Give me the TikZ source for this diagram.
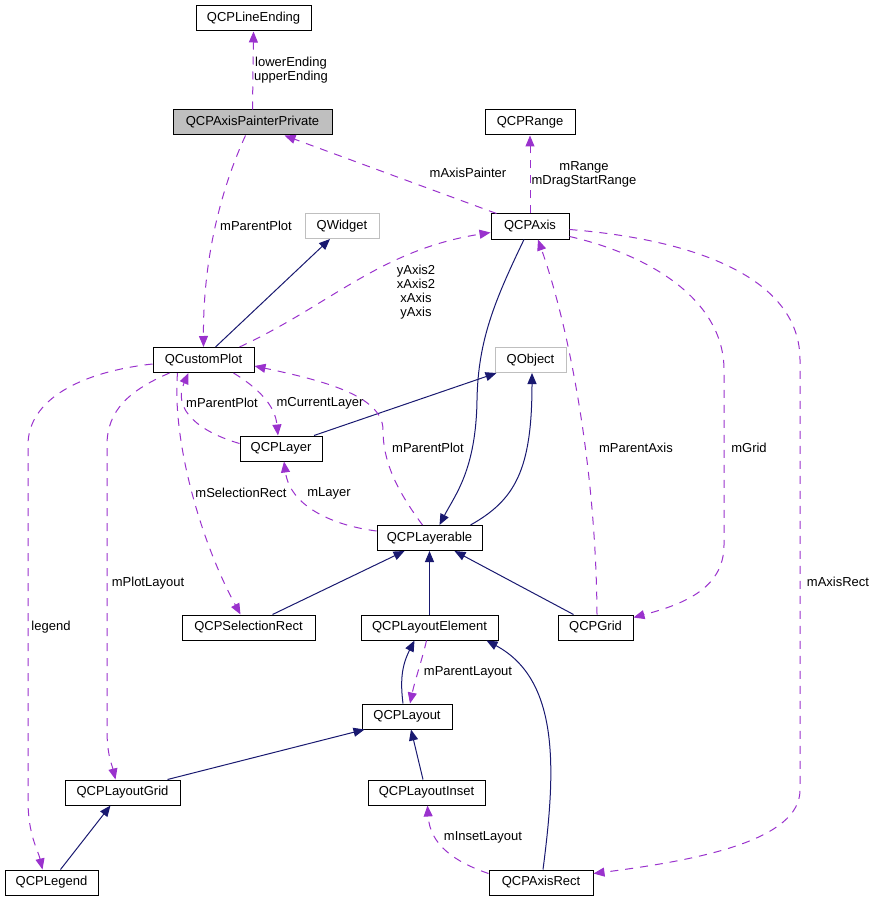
\documentclass[tikz,border=0pt]{standalone}
\usepackage{fontspec}
\setmainfont{Liberation Sans}
\usetikzlibrary{arrows.meta}
\definecolor{dep}{HTML}{9A32CD}
\definecolor{inh}{HTML}{191970}
\definecolor{grayb}{HTML}{BFBFBF}
\tikzset{
  box/.style={draw=black, line width=1pt, fill=white, minimum height=25pt, inner sep=0pt, font=\fontsize{13}{14}\selectfont},
  extbox/.style={box, draw=grayb},
  curbox/.style={box, fill=grayb},
  depedge/.style={draw=dep, line width=1pt, dash pattern=on 8pt off 7pt, -{Triangle[length=11pt,width=9pt]}},
  inhedge/.style={draw=inh, line width=1pt, -{Triangle[length=11pt,width=9pt]}},
  lbl/.style={font=\fontsize{13}{14}\selectfont, align=center, inner sep=0pt},
}
\begin{document}
\begin{tikzpicture}[x=1pt,y=-1pt]
\useasboundingbox (0,0) rectangle (879,901);
% nodes
\node[box, minimum width=115pt] (le) at (253.5,18.5) {QCPLineEnding};
\node[curbox, minimum width=159pt] (pp) at (252.5,122.5) {QCPAxisPainterPrivate};
\node[box, minimum width=90pt] (rg) at (530,122.5) {QCPRange};
\node[box, minimum width=78pt] (ax) at (530,226.5) {QCPAxis};
\node[extbox, minimum width=74pt] (qw) at (342,226) {QWidget};
\node[box, minimum width=101pt] (cp) at (203.5,360) {QCustomPlot};
\node[extbox, minimum width=71pt] (qo) at (530.5,360) {QObject};
\node[box, minimum width=82pt] (ly) at (281,448.5) {QCPLayer};
\node[box, minimum width=105pt] (lb) at (429.5,538) {QCPLayerable};
\node[box, minimum width=133pt] (sr) at (248.5,627.5) {QCPSelectionRect};
\node[box, minimum width=137pt] (lel) at (429.5,627.5) {QCPLayoutElement};
\node[box, minimum width=75pt] (gr) at (595.5,627.5) {QCPGrid};
\node[box, minimum width=90pt] (lay) at (407,716.5) {QCPLayout};
\node[box, minimum width=115pt] (lgr) at (122.5,792.5) {QCPLayoutGrid};
\node[box, minimum width=117pt] (li) at (426.5,792.5) {QCPLayoutInset};
\node[box, minimum width=93pt] (lg) at (51.5,882.5) {QCPLegend};
\node[box, minimum width=104pt] (ar) at (541,882.5) {QCPAxisRect};

% edges
\draw[depedge] (pp.north) -- (le.south);
\node[lbl] (l1) at (291,70) {lowerEnding\\upperEnding};

\draw[depedge] ([xshift=6pt]ax.north west) -- ([xshift=32pt]pp.south);
\node[lbl] (l2) at (468,173) {mAxisPainter};

\draw[depedge] (ax.north) -- (rg.south);
\node[lbl] (l3) at (584,174) {mRange\\mDragStartRange};

\draw[depedge] ([xshift=-7pt]pp.south) .. controls (225,180) and (203,250) .. (cp.north);
\node[lbl] (l4) at (256,226) {mParentPlot};

\draw[inhedge] ([xshift=12pt]cp.north) -- ([xshift=-12pt]qw.south);

\draw[depedge] ([xshift=36pt]cp.north) .. controls (330,305) and (380,250) .. ([yshift=-6pt]ax.west);
\node[lbl] (l6) at (416,292) {yAxis2\\xAxis2\\xAxis\\yAxis};

\draw[depedge] ([xshift=30pt]cp.south) .. controls (258,388) and (275,405) .. ([xshift=-3pt]ly.north);
\node[lbl] (l7) at (320,403) {mCurrentLayer};

\draw[depedge] ([yshift=5pt]ly.west) .. controls (200,432) and (172,410) .. ([xshift=-15pt]cp.south);
\node[lbl] (l8) at (222,403) {mParentPlot};

\draw[inhedge] ([xshift=33pt]ly.north) -- ([xshift=2pt]qo.south west);

\draw[depedge] ([xshift=-7pt]lb.north) .. controls (395,488) and (383,460) .. (383,430)
   .. controls (383,395) and (320,380) .. ([yshift=-6pt]cp.east);
\node[lbl] (l10) at (428,448) {mParentPlot};

\draw[depedge] ([yshift=7pt]lb.west) .. controls (330,525) and (290,505) .. ([xshift=3pt]ly.south);
\node[lbl] (l11) at (329,493) {mLayer};

\draw[inhedge] ([xshift=-12pt]lb.north east) .. controls (515,500) and (532,470) .. ([xshift=1.5pt]qo.south);

\draw[inhedge] ([xshift=-6pt]ax.south) .. controls (495,300) and (478,340) .. (477,400)
   .. controls (476,470) and (455,495) .. ([xshift=10pt]lb.north);

\draw[depedge] ([xshift=-26pt]cp.south) .. controls (172,440) and (200,540) .. ([xshift=-8pt]sr.north);
\node[lbl] (l14) at (241,493) {mSelectionRect};

\draw[inhedge] ([xshift=24pt]sr.north) -- ([xshift=-25pt]lb.south);
\draw[inhedge] (lel.north) -- (lb.south);
\draw[inhedge] ([xshift=-22pt]gr.north) -- ([xshift=25pt]lb.south);

\draw[depedge] ([yshift=-10pt]ax.east) .. controls (650,255) and (724,300) .. (724,370)
   -- (724,545) .. controls (724,590) and (680,605) .. ([yshift=10pt]gr.east);
\node[lbl] (l18) at (749,448) {mGrid};

\draw[depedge] ([xshift=1.5pt]gr.north) .. controls (596,470) and (570,330) .. ([xshift=8pt]ax.south);
\node[lbl] (l19) at (636,448) {mParentAxis};

\draw[depedge] ([yshift=-3pt]ax.east) .. controls (700,240) and (800,280) .. (800,360)
   -- (800,790) .. controls (800,840) and (700,860) .. ([yshift=9pt]ar.east);
\node[lbl] (l20) at (838,582) {mAxisRect};

\draw[depedge] ([yshift=-4pt]cp.west) .. controls (80,372) and (28,400) .. (28,445)
   -- (28,800) .. controls (28,835) and (38,850) .. ([xshift=-9pt]lg.north);
\node[lbl] (l21) at (51,627) {legend};

\draw[depedge] ([xshift=-34pt]cp.south) .. controls (130,390) and (107,410) .. (107,445)
   -- (107,730) .. controls (107,755) and (112,765) .. ([xshift=-7pt]lgr.north);
\node[lbl] (l22) at (148,583) {mPlotLayout};

\draw[inhedge] ([xshift=-4pt]lay.north) .. controls (400,680) and (402,665) .. ([xshift=-15pt]lel.south);
\draw[depedge] ([xshift=-3pt]lel.south) .. controls (422,660) and (415,680) .. ([xshift=3pt]lay.north);
\node[lbl] (l24) at (468,672) {mParentLayout};

\draw[inhedge] ([xshift=2pt]ar.north) .. controls (556,770) and (560,680) .. ([xshift=-12pt]lel.south east);

\draw[inhedge] ([xshift=45pt]lgr.north) -- ([xshift=3pt]lay.south west);
\draw[inhedge] ([xshift=-3.5pt]li.north) -- ([xshift=4pt]lay.south);
\draw[inhedge] ([xshift=9pt]lg.north) -- ([xshift=-12pt]lgr.south);

\draw[depedge] ([yshift=9pt]ar.west) .. controls (455,862) and (430,845) .. ([xshift=1pt]li.south);
\node[lbl] (l29) at (483,837) {mInsetLayout};
\end{tikzpicture}
\end{document}
